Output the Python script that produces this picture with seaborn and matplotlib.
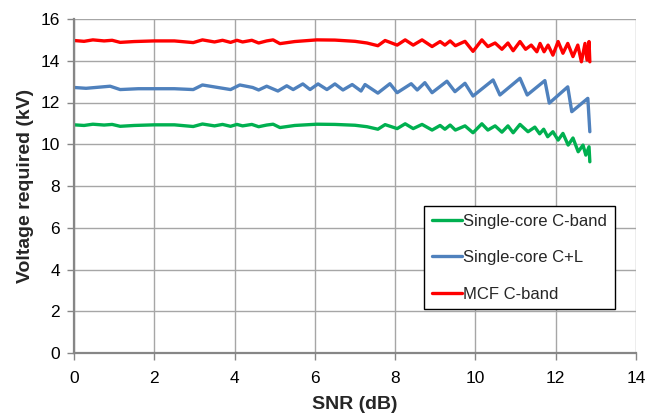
import matplotlib
matplotlib.use("Agg")
import matplotlib.pyplot as plt
import seaborn as sns
import pandas as pd

# Series data: SNR (dB) vs required voltage (kV)
snr_c = [0.0, 0.25, 0.47, 0.75, 0.95, 1.15, 1.5, 2.0, 2.5, 2.97, 3.2, 3.5, 3.7, 3.9,
         4.06, 4.2, 4.43, 4.6, 4.8, 4.96, 5.13, 5.5, 6.05, 6.5, 7.0, 7.3, 7.57, 7.75,
         8.05, 8.25, 8.45, 8.67, 8.92, 9.12, 9.24, 9.37, 9.5, 9.74, 9.94, 10.16,
         10.31, 10.49, 10.66, 10.81, 10.94, 11.11, 11.31, 11.48, 11.6, 11.7, 11.8,
         11.93, 12.06, 12.18, 12.31, 12.43, 12.56, 12.68, 12.75, 12.83, 12.85]
volt_c = [10.93, 10.9, 10.96, 10.92, 10.95, 10.86, 10.9, 10.93, 10.93, 10.85, 10.97,
          10.88, 10.95, 10.86, 10.95, 10.88, 10.95, 10.84, 10.92, 10.96, 10.8, 10.9,
          10.96, 10.95, 10.91, 10.84, 10.72, 10.94, 10.75, 10.98, 10.75, 10.95, 10.68,
          10.9, 10.72, 10.92, 10.68, 10.88, 10.55, 10.98, 10.68, 10.88, 10.58, 10.88,
          10.55, 10.95, 10.6, 10.82, 10.5, 10.72, 10.36, 10.6, 10.2, 10.52, 9.96, 10.3,
          9.64, 9.96, 9.48, 9.88, 9.16]

snr_cl = [0.0, 0.3, 0.9, 1.15, 1.6, 2.5, 2.97, 3.2, 3.9, 4.13, 4.45, 4.6, 4.8, 5.08,
          5.3, 5.46, 5.7, 5.88, 6.08, 6.3, 6.5, 6.7, 6.93, 7.15, 7.25, 7.57, 7.87,
          8.05, 8.4, 8.55, 8.74, 8.92, 9.29, 9.49, 9.74, 9.94, 10.44, 10.61, 11.11,
          11.29, 11.73, 11.84, 12.3, 12.4, 12.8, 12.85]
volt_cl = [12.72, 12.68, 12.78, 12.62, 12.66, 12.66, 12.62, 12.84, 12.62, 12.84,
           12.72, 12.6, 12.78, 12.55, 12.8, 12.62, 12.89, 12.62, 12.89, 12.62, 12.89,
           12.6, 12.86, 12.55, 12.86, 12.45, 12.9, 12.47, 12.9, 12.6, 12.95, 12.47,
           13.02, 12.52, 12.92, 12.31, 13.08, 12.36, 13.16, 12.36, 13.05, 11.97, 12.75,
           11.56, 12.2, 10.6]

snr_mcf = [0.0, 0.25, 0.47, 0.75, 0.95, 1.15, 1.5, 2.0, 2.5, 2.97, 3.2, 3.5, 3.7, 3.9,
           4.06, 4.2, 4.43, 4.6, 4.8, 4.96, 5.13, 5.5, 6.05, 6.5, 7.0, 7.3, 7.57, 7.75,
           8.05, 8.25, 8.45, 8.67, 8.92, 9.12, 9.24, 9.37, 9.5, 9.74, 9.94, 10.16,
           10.31, 10.49, 10.66, 10.81, 10.94, 11.11, 11.25, 11.39, 11.53, 11.61, 11.71,
           11.81, 11.93, 12.06, 12.18, 12.3, 12.43, 12.55, 12.64, 12.73, 12.78, 12.83,
           12.85]
volt_mcf = [14.97, 14.93, 15.0, 14.95, 14.98, 14.88, 14.92, 14.95, 14.95, 14.87, 15.0,
            14.9, 14.98, 14.88, 14.98, 14.9, 14.98, 14.85, 14.95, 15.0, 14.82, 14.92,
            15.0, 14.99, 14.93, 14.85, 14.72, 14.97, 14.75, 15.0, 14.75, 15.0, 14.68,
            14.92, 14.75, 14.95, 14.72, 14.93, 14.45, 15.0, 14.68, 14.85, 14.55, 14.85,
            14.48, 14.92, 14.55, 14.75, 14.43, 14.83, 14.43, 14.75, 14.27, 14.92, 14.36,
            14.83, 14.2, 14.75, 13.95, 14.83, 14.03, 14.92, 13.95]

labels = ["Single-core C-band", "Single-core C+L", "MCF C-band"]
colors = ["#00B050", "#4F81BD", "#FF0000"]

df = pd.concat([
    pd.DataFrame({"SNR": snr_c, "V": volt_c, "series": labels[0]}),
    pd.DataFrame({"SNR": snr_cl, "V": volt_cl, "series": labels[1]}),
    pd.DataFrame({"SNR": snr_mcf, "V": volt_mcf, "series": labels[2]}),
], ignore_index=True)

sns.set_theme(style="whitegrid")
plt.rcParams["font.family"] = ["Liberation Sans", "DejaVu Sans"]

fig = plt.figure(figsize=(6.63, 4.13), dpi=100)
ax = fig.add_axes([74 / 663, 1 - 353 / 413, 562 / 663, 334 / 413])

sns.lineplot(data=df, x="SNR", y="V", hue="series", hue_order=labels,
             palette=colors, sort=False, estimator=None, linewidth=2.4, ax=ax,
             solid_joinstyle="round", solid_capstyle="round")

ax.set_xlim(0, 14)
ax.set_ylim(0, 16)
ax.set_xticks(range(0, 15, 2))
ax.set_yticks(range(0, 17, 2))
ax.grid(True, color="#A6A6A6", linewidth=1.0)
ax.set_axisbelow(True)
for side in ["top", "right"]:
    ax.spines[side].set_visible(False)
for side in ["left", "bottom"]:
    ax.spines[side].set_color("#868686")
    ax.spines[side].set_linewidth(1.6)
ax.tick_params(axis="both", which="major", direction="out", length=5, width=1,
               color="#868686", labelsize=12.5, labelcolor="black",
               bottom=True, left=True)
ax.tick_params(axis="x", pad=8)
ax.tick_params(axis="y", pad=5)
ax.set_xlabel("SNR (dB)", fontsize=14, fontweight="bold", labelpad=7)
ax.set_ylabel("Voltage required (kV)", fontsize=14, fontweight="bold", labelpad=5)

leg = ax.legend(loc="upper left", bbox_to_anchor=(0.623, 0.44), fontsize=12,
                frameon=True, fancybox=False, edgecolor="black", framealpha=1,
                handlelength=1.8, handletextpad=0.1, labelspacing=1.3,
                borderpad=0.45, borderaxespad=0)
leg.get_frame().set_linewidth(1.0)
for line in leg.get_lines():
    line.set_linewidth(2.4)

fig.savefig("out.png", dpi=100)
